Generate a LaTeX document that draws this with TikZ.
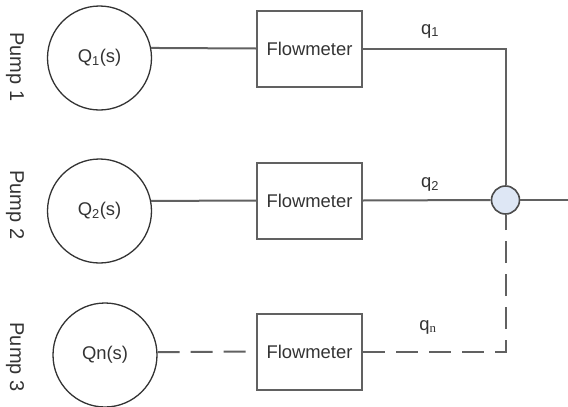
\documentclass[tikz,border=0pt]{standalone}
\usepackage{fontspec}
\setmainfont{Liberation Sans}
\newfontfamily\serifsub{Liberation Serif}
\definecolor{nodefill}{RGB}{222,231,245}
\begin{document}
\begin{tikzpicture}[x=1pt,y=-1pt,
  font=\fontsize{18.4}{20}\selectfont,
  pipe/.style={draw=black!62,line width=2pt},
  dashpipe/.style={pipe,dash pattern=on 22pt off 11pt},
  pump/.style={circle,draw=black!80,line width=1.3pt,minimum size=104pt,inner sep=0pt,text=black!80},
  meter/.style={rectangle,draw=black!62,line width=2pt,minimum width=105pt,minimum height=76pt,inner sep=0pt,text=black!80},
  junction/.style={circle,draw=black!70,line width=1.6pt,fill=nodefill,minimum size=28pt,inner sep=0pt},
  tag/.style={text=black!80,inner sep=0pt},
  side/.style={text=black!80,rotate=-90,inner sep=0pt,font=\fontsize{20}{22}\selectfont}]
  \useasboundingbox (0,0) rectangle (568,407);

  % pumps
  \node[pump] (c1) at (99.5,58) {Q\textsubscript{1}(s)};
  \node[pump] (c2) at (99.5,211) {Q\textsubscript{2}(s)};
  \node[pump] (c3) at (105,355) {Qn(s)};

  % pump names
  \node[side] (p1) at (15,67) {Pump 1};
  \node[side] (p2) at (15,205) {Pump 2};
  \node[side] (p3) at (15,357) {Pump 3};

  % flowmeters
  \node[meter] (b1) at (309.5,48.5) {Flowmeter};
  \node[meter] (b2) at (309.5,200.5) {Flowmeter};
  \node[meter] (b3) at (309.5,351.5) {Flowmeter};

  % summing junction
  \node[junction] (j) at (505.5,200) {};
  \coordinate (out) at (568,200);

  % flow labels
  \node[tag] (l1) at (430,31) {q\textsubscript{1}};
  \node[tag] (l2) at (430,184) {q\textsubscript{2}};
  \node[tag] (l3) at (428,327) {q\textsubscript{\serifsub n}};

  % pipes
  \draw[pipe] (c1.11) -- (b1.west);
  \draw[pipe] (b1.east) -- (j |- b1.east) -- (j.north);
  \draw[pipe] (c2.11) -- (b2.west);
  \draw[pipe] (b2.east) -- (j.west);
  \draw[pipe] (j.east) -- (out);
  \draw[dashpipe] (c3.3) -- (b3.west);
  \draw[dashpipe] (b3.east) -- (j |- b3.east) -- (j.south);
\end{tikzpicture}
\end{document}
